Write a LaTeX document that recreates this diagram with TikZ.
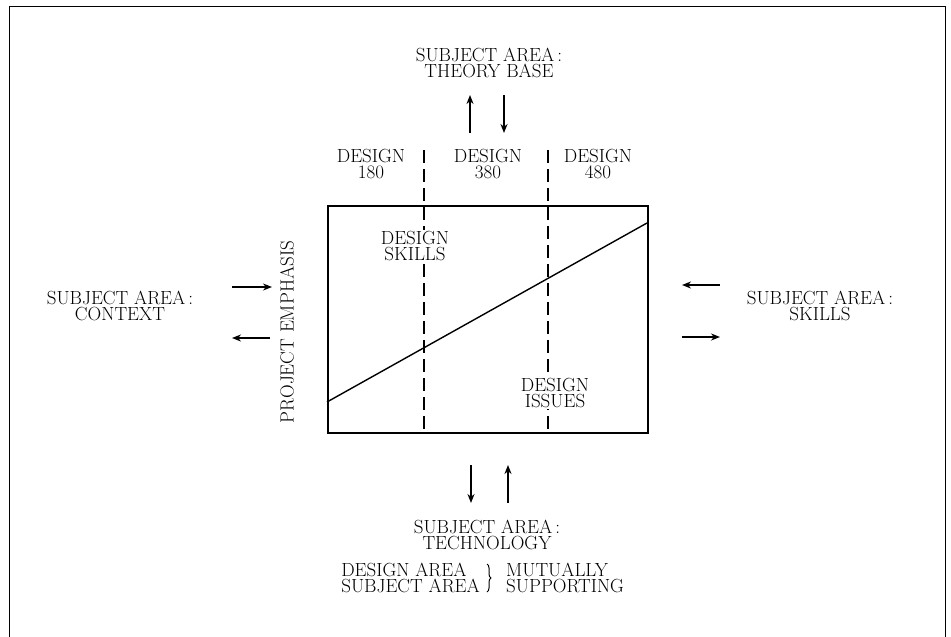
\documentclass[tikz,border=0pt]{standalone}
\usetikzlibrary{arrows.meta,decorations.pathreplacing}
\begin{document}
\begin{tikzpicture}[x=1pt,y=-1pt,
  lbl/.style={font=\fontsize{19}{16}\selectfont, align=center, inner sep=1pt},
  arr/.style={-{Stealth[length=9pt,width=7pt]}, line width=1.6pt},
  framepen/.style={line width=0.9pt},
  dashline/.style={line width=1.7pt, dash pattern=on 13pt off 6pt},
  boxline/.style={line width=1.5pt}]
\useasboundingbox (0,0) rectangle (951,637);
% outer frame
\coordinate (fa) at (9,637);
\coordinate (fb) at (9,6);
\coordinate (fc) at (945,6);
\coordinate (fd) at (945,637);
\draw[framepen] (fa) -- (fb) -- (fc) -- (fd);
% central box
\node[draw, boxline, minimum width=320pt, minimum height=227pt, inner sep=0pt, anchor=north west] (box) at (327,205) {};
% dashed dividers
\coordinate (da1) at (424,150);
\coordinate (da2) at (424,432);
\coordinate (db1) at (548,150);
\coordinate (db2) at (548,432);
\draw[dashline] (da1) -- (da2);
\draw[dashline] (db1) -- (db2);
% diagonal
\coordinate (g1) at (327,402);
\coordinate (g2) at (647,223);
\draw[line width=1.4pt] (g1) -- (g2);
% labels inside
\node[lbl, fill=white] (skills) at (415,246) {DESIGN\\SKILLS};
\node[lbl, fill=white] (issues) at (555,393) {DESIGN\\ISSUES};
% course labels
\node[lbl] (d180) at (371,164) {DESIGN\\180};
\node[lbl] (d380) at (488,164) {DESIGN\\380};
\node[lbl] (d480) at (598,164) {DESIGN\\480};
% axis label
\node[lbl, rotate=90] (pe) at (287,332) {PROJECT EMPHASIS};
% top
\node[lbl] (theory) at (489,63) {SUBJECT AREA\,:\\THEORY BASE};
\coordinate (tu1) at (470,133); \coordinate (tu2) at (470,95);
\coordinate (td1) at (504,95);  \coordinate (td2) at (504,133);
\draw[arr] (tu1) -- (tu2);
\draw[arr] (td1) -- (td2);
% left
\node[lbl] (ctx) at (120,306) {SUBJECT AREA\,:\\CONTEXT};
\coordinate (lr1) at (232,287); \coordinate (lr2) at (272,287);
\coordinate (ll1) at (270,338); \coordinate (ll2) at (232,338);
\draw[arr] (lr1) -- (lr2);
\draw[arr] (ll1) -- (ll2);
% right
\node[lbl] (skl) at (820,306) {SUBJECT AREA\,:\\SKILLS};
\coordinate (rl1) at (720,285); \coordinate (rl2) at (682,285);
\coordinate (rr1) at (682,337); \coordinate (rr2) at (720,337);
\draw[arr] (rl1) -- (rl2);
\draw[arr] (rr1) -- (rr2);
% bottom
\coordinate (bd1) at (471,465); \coordinate (bd2) at (471,503);
\coordinate (bu1) at (508,503); \coordinate (bu2) at (508,465);
\draw[arr] (bd1) -- (bd2);
\draw[arr] (bu1) -- (bu2);
\node[lbl] (tech) at (487,535) {SUBJECT AREA\,:\\TECHNOLOGY};
% legend
\node[lbl, align=left, anchor=east] (la) at (481,578) {DESIGN AREA\\SUBJECT AREA};
\node[lbl, align=left, anchor=west] (lb) at (505,578) {MUTUALLY\\SUPPORTING};
\coordinate (br1) at (487,564); \coordinate (br2) at (487,592);
\draw[decorate, decoration={brace, amplitude=4pt}, line width=1pt] (br1) -- (br2);
\end{tikzpicture}
\end{document}
